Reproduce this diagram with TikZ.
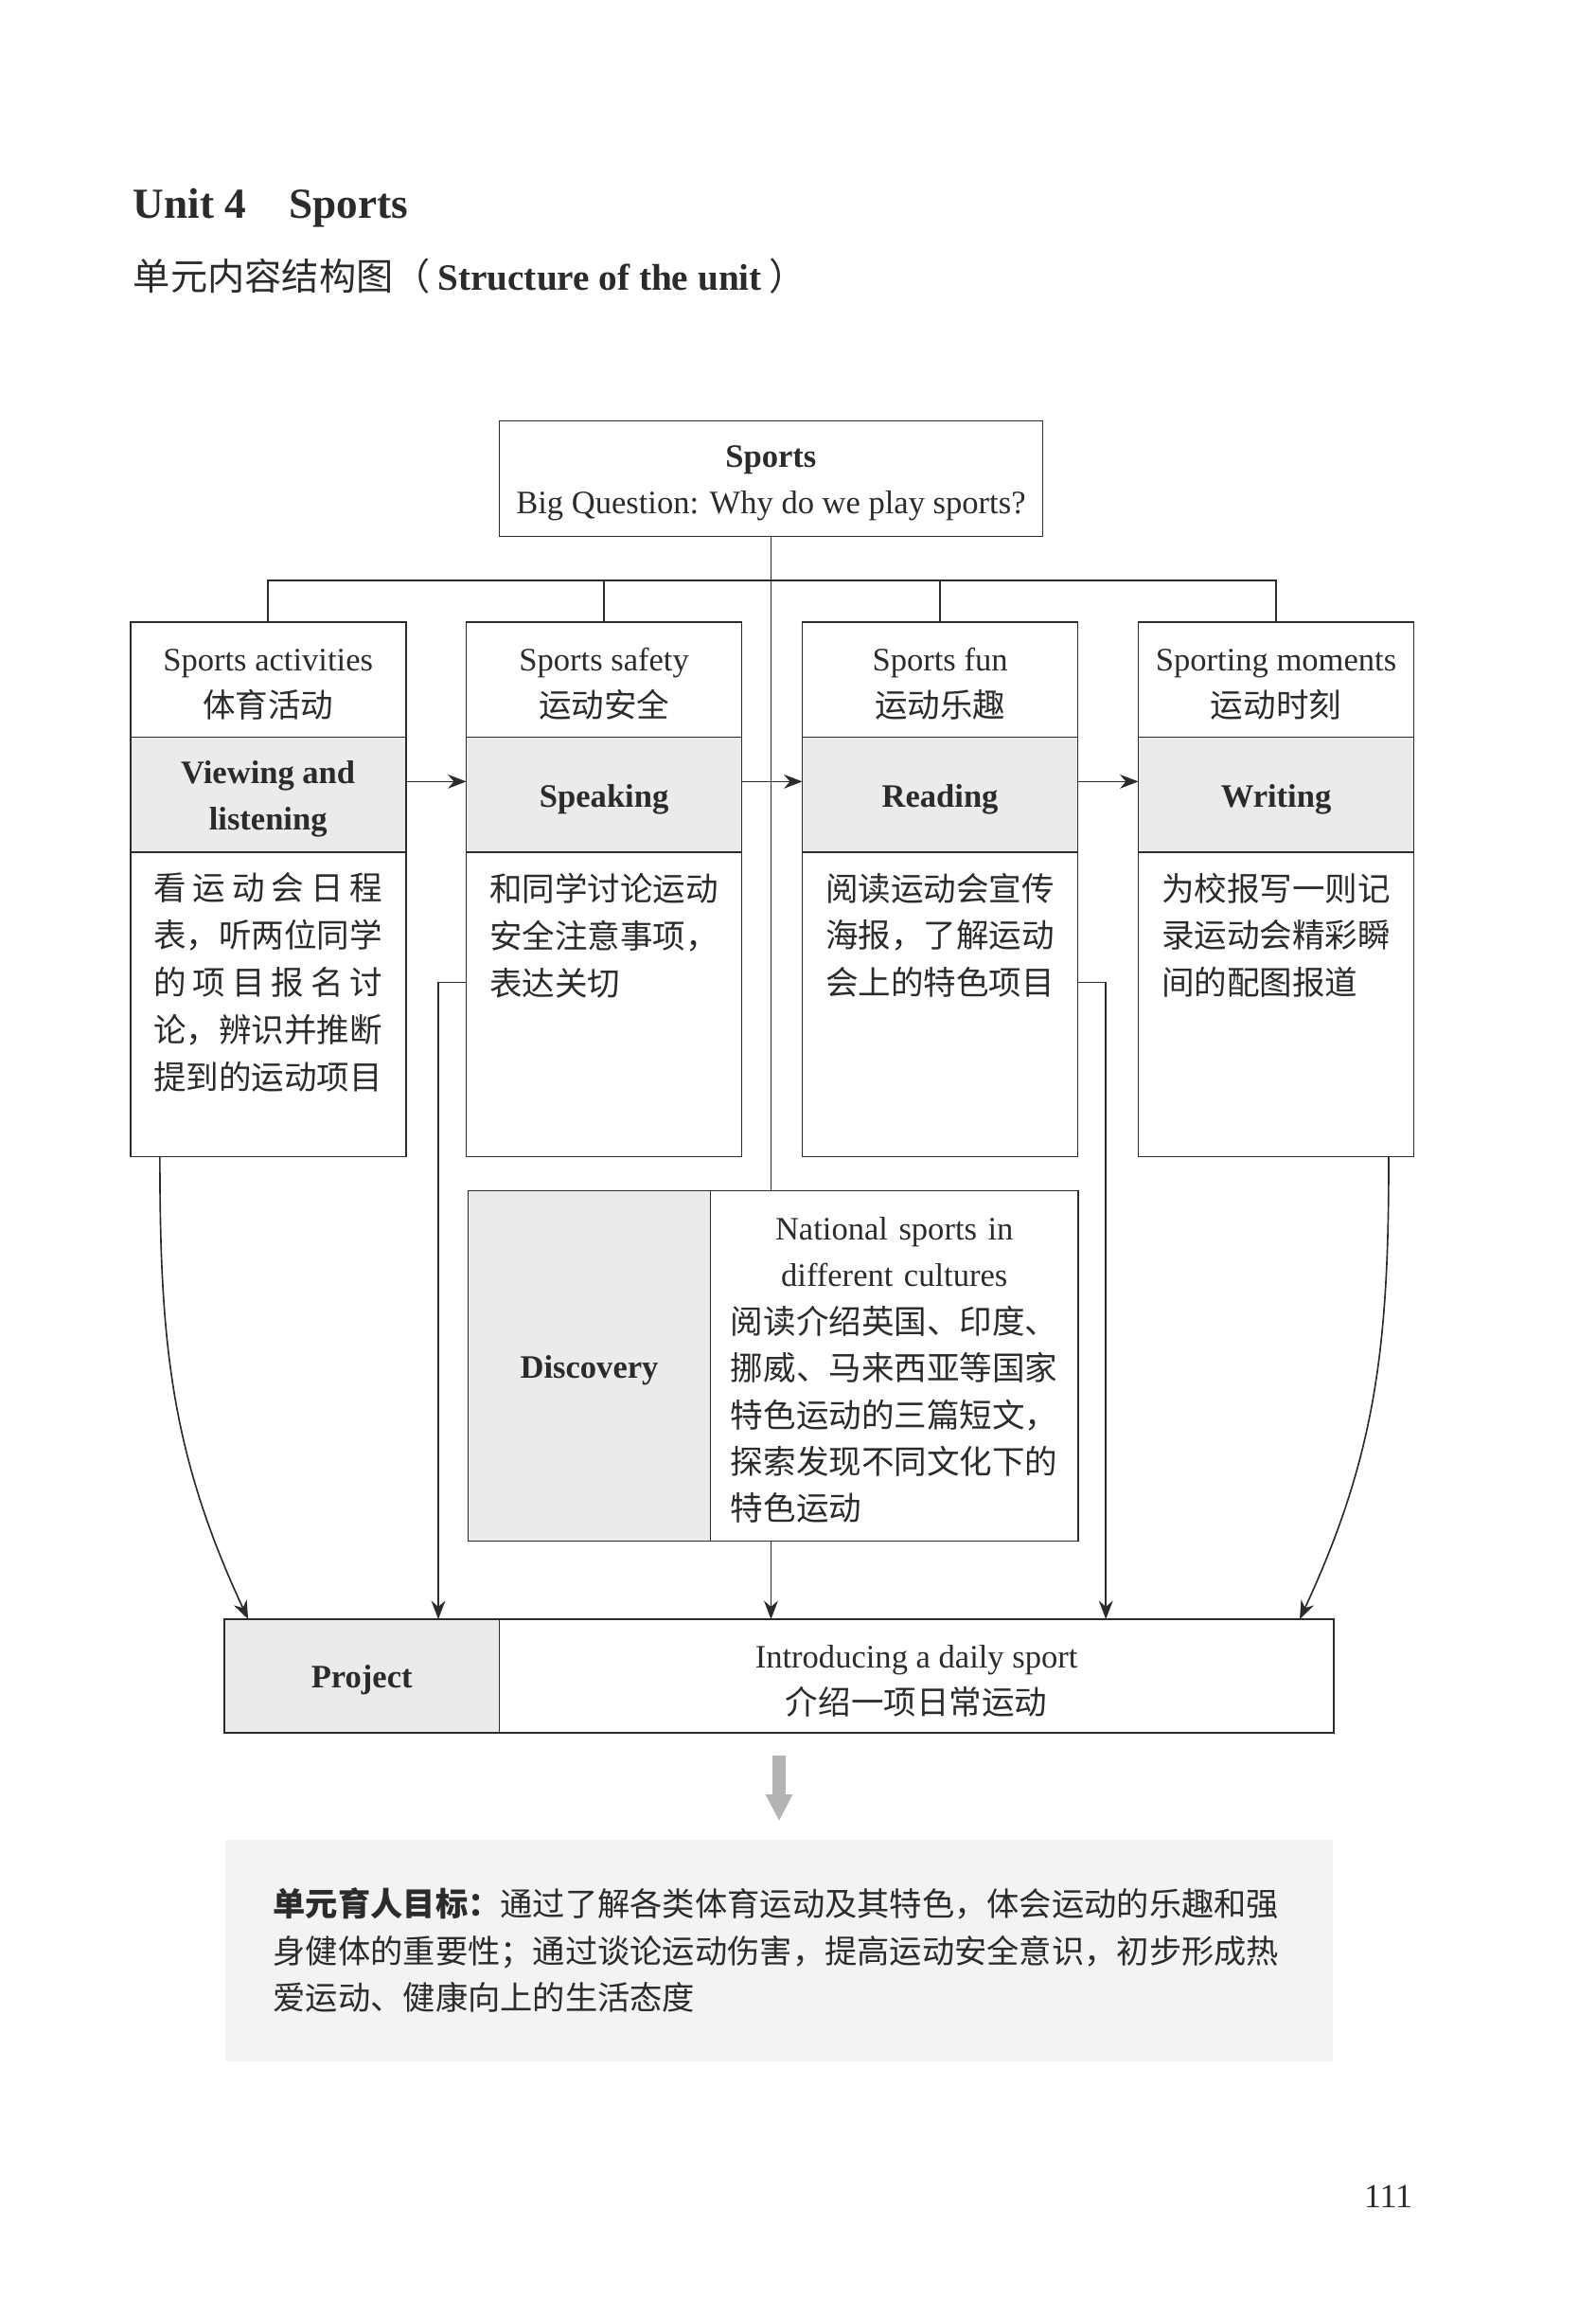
\documentclass[tikz,border=0pt]{standalone}
\usepackage{fontspec}
\setmainfont{Liberation Serif}
\newfontfamily\cjk{Noto Sans CJK SC}
\usetikzlibrary{positioning, calc, arrows.meta}
\definecolor{ink}{HTML}{2B2B2B}
\definecolor{shade}{HTML}{EBEBEB}
\definecolor{goalbg}{HTML}{F3F3F3}
\definecolor{arrowgray}{HTML}{B4B4B4}
\newcommand{\firstline}{\rule{0pt}{12pt}}

\begin{document}
\begin{tikzpicture}[>={Stealth[length=0.25cm,width=0.19cm]},
    every node/.style={text=ink, font=\fontsize{12.6}{18}\selectfont},
    box/.style={draw=ink, line width=0.6pt, inner sep=0pt, outer sep=0pt, align=center},
    sectop/.style={box, minimum width=3.73cm, minimum height=1.56cm},
    secmid/.style={box, minimum width=3.73cm, minimum height=1.56cm, fill=shade, font=\fontsize{12.6}{18}\selectfont\bfseries},
    secbot/.style={box, minimum width=3.73cm, minimum height=4.12cm},
    cntext/.style={inner sep=0pt, text width=3.1cm, align=left, font=\fontsize{12.6}{18.2}\selectfont\cjk},
    link/.style={draw=ink, line width=0.6pt},
    arr/.style={link, ->},
    goalarr/.style={-{Triangle[length=0.36cm,width=0.34cm]}, line width=0.17cm, draw=arrowgray, shorten <=0.3cm, shorten >=0.24cm}]

    \useasboundingbox (0,0) rectangle (21.6,-31.38);

    % heading
    \node[anchor=base west, inner sep=0pt, font=\fontsize{16.5}{20}\selectfont\bfseries] (unit) at (1.8,-2.96) {Unit 4\quad Sports};
    \node[anchor=base west, inner sep=0pt, font=\fontsize{14.3}{18}\selectfont] (struct) at (1.8,-3.93) {{\cjk 单元内容结构图（}\hspace{0.2em}\textbf{Structure of the unit}\hspace{0.2em}{\cjk ）}};

    % big question
    \node[box, minimum width=7.36cm, minimum height=1.56cm] (sports) at (10.44,-6.48) {\firstline\textbf{Sports}\\Big Question: Why do we play sports?};

    % four sections
    \node[sectop] (acts) at (3.63,-9.20) {\firstline Sports activities\\{\cjk 体育活动}};
    \node[sectop, right=0.82cm of acts] (safety) {\firstline Sports safety\\{\cjk 运动安全}};
    \node[sectop, right=0.82cm of safety] (fun) {\firstline Sports fun\\{\cjk 运动乐趣}};
    \node[sectop, right=0.82cm of fun] (moments) {\firstline Sporting moments\\{\cjk 运动时刻}};

    \node[secmid, below=0pt of acts] (view) {\firstline Viewing and\\listening};
    \node[secmid, below=0pt of safety] (speak) {\firstline Speaking};
    \node[secmid, below=0pt of fun] (read) {\firstline Reading};
    \node[secmid, below=0pt of moments] (write) {\firstline Writing};

    \node[secbot, below=0pt of view] (viewbox) {};
    \node[secbot, below=0pt of speak] (speakbox) {};
    \node[secbot, below=0pt of read] (readbox) {};
    \node[secbot, below=0pt of write] (writebox) {};

    \node[cntext, below=0.27cm of viewbox.north] (viewtxt) {看\hfill 运\hfill 动\hfill 会\hfill 日\hfill 程\\
        表，听两位同学\\
        的\hfill 项\hfill 目\hfill 报\hfill 名\hfill 讨\\
        论，辨识并推断\\
        提到的运动项目};
    \node[cntext, below=0.27cm of speakbox.north] (speaktxt) {和同学讨论运动\\
        安全注意事项，\\
        表达关切};
    \node[cntext, below=0.27cm of readbox.north] (readtxt) {阅读运动会宣传\\
        海报，了解运动\\
        会上的特色项目};
    \node[cntext, below=0.27cm of writebox.north] (writetxt) {为校报写一则记\\
        录运动会精彩瞬\\
        间的配图报道};

    % discovery
    \node[box, minimum width=8.26cm, minimum height=4.74cm] (disc) at (10.47,-18.49) {};
    \node[box, fill=shade, minimum width=3.28cm, minimum height=4.74cm, anchor=west, font=\fontsize{12.6}{18}\selectfont\bfseries] (disclab) at (disc.west) {\firstline Discovery};
    \node[inner sep=0pt, text width=4.43cm, align=left, yshift=-0.06cm] (disctxt) at ($(disclab.east)!0.5!(disc.east)$) {\makebox[\linewidth]{National sports in}\\
        \makebox[\linewidth]{different cultures}\\
        \cjk 阅读介绍英国、印度、\\
        挪威、马来西亚等国家\\
        特色运动的三篇短文，\\
        探索发现不同文化下的\\
        特色运动};

    % project
    \node[box, minimum width=15.02cm, minimum height=1.54cm] (proj) at (10.55,-22.69) {};
    \node[box, fill=shade, minimum width=3.72cm, minimum height=1.54cm, anchor=west, font=\fontsize{12.6}{18}\selectfont\bfseries] (projlab) at (proj.west) {\firstline Project};
    \node[align=center, inner sep=0pt, yshift=-0.07cm] (projtxt) at ($(projlab.east)!0.5!(proj.east)$) {Introducing a daily sport\\{\cjk 介绍一项日常运动}};

    % goal
    \node[fill=goalbg, minimum width=15cm, minimum height=3cm, inner sep=0pt, text width=13.7cm, align=left, font=\fontsize{12.5}{17.9}\selectfont\cjk] (goal) at (10.55,-26.4) {\textbf{单元育人目标：}通过了解各类体育运动及其特色，体会运动的乐趣和强\\
        身健体的重要性；通过谈论运动伤害，提高运动安全意识，初步形成热\\
        爱运动、健康向上的生活态度};

    \node[anchor=base, font=\fontsize{13}{15}\selectfont] (page) at (18.8,-29.88) {111};

    % connectors
    \coordinate (bus) at (10.44,-7.86);
    \draw[link] (sports.south) -- (sports.south |- disc.north);
    \draw[link] (acts.north) |- (bus) -| (moments.north);
    \draw[link] (safety.north) -- (safety.north |- bus);
    \draw[link] (fun.north) -- (fun.north |- bus);

    \draw[arr] ([yshift=0.18cm]view.east) -- ([yshift=0.18cm]speak.west);
    \draw[arr] ([yshift=0.18cm]speak.east) -- ([yshift=0.18cm]read.west);
    \draw[arr] ([yshift=0.18cm]read.east) -- ([yshift=0.18cm]write.west);

    \draw[arr] ([xshift=0.4cm]viewbox.south west) to[out=-90,in=115] ([xshift=0.32cm]proj.north west);
    \draw[arr] ([yshift=0.3cm]speakbox.west) -- ++(-0.38,0) coordinate (speakturn) -- (speakturn |- proj.north);
    \draw[arr] (sports.south |- disc.south) -- (sports.south |- proj.north);
    \draw[arr] ([yshift=0.3cm]readbox.east) -- ++(0.38,0) coordinate (readturn) -- (readturn |- proj.north);
    \draw[arr] ([xshift=-0.34cm]writebox.south east) to[out=-90,in=65] ([xshift=-0.46cm]proj.north east);

    \draw[goalarr] (proj.south) -- (goal.north);
\end{tikzpicture}
\end{document}
